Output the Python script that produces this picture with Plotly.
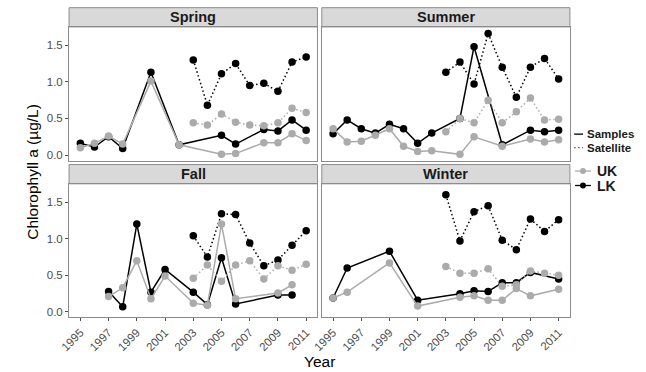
import plotly.graph_objects as go

# Years on the x axis (one slot per year, None = no observation)
years = list(range(1995, 2012))
tick_years = list(range(1995, 2012, 2))
seasons = ["Spring", "Summer", "Fall", "Winter"]

# Chlorophyll a (ug/L) -- in-situ samples
spring_samples_uk = [0.10, 0.16, 0.26, 0.15, None, 1.01, None, 0.14, None, None, 0.01, 0.02, None, 0.17, 0.17, 0.29, 0.20]
spring_samples_lk = [0.16, 0.11, 0.25, 0.09, None, 1.13, None, 0.14, None, None, 0.27, 0.15, None, 0.35, 0.33, 0.48, 0.34]
summer_samples_uk = [0.36, 0.18, 0.19, 0.27, 0.36, 0.12, 0.05, 0.06, None, 0.01, 0.25, None, 0.12, None, 0.22, 0.18, 0.21]
summer_samples_lk = [0.29, 0.48, 0.36, 0.30, 0.42, 0.36, 0.16, 0.30, None, 0.50, 1.48, None, 0.14, None, 0.34, 0.32, 0.34]
fall_samples_uk = [None, None, 0.21, 0.33, 0.70, 0.18, 0.49, None, 0.12, 0.09, 1.20, 0.18, None, None, 0.26, 0.37, None]
fall_samples_lk = [None, None, 0.28, 0.07, 1.20, 0.27, 0.58, None, 0.27, 0.10, 0.74, 0.11, None, None, 0.23, 0.23, None]
winter_samples_uk = [0.19, 0.27, None, None, 0.67, None, 0.08, None, None, 0.20, 0.22, 0.16, 0.16, 0.32, 0.22, None, 0.31]
winter_samples_lk = [0.19, 0.60, None, None, 0.83, None, 0.16, None, None, 0.25, 0.29, 0.28, 0.40, 0.40, 0.54, None, 0.45]

# Chlorophyll a (ug/L) -- satellite estimates (2003 onward)
pre = [None] * 8
spring_satellite_uk = pre + [0.44, 0.41, 0.56, 0.45, 0.41, 0.40, 0.44, 0.64, 0.58]
spring_satellite_lk = pre + [1.30, 0.68, 1.11, 1.25, 0.95, 0.98, 0.87, 1.27, 1.34]
summer_satellite_uk = pre + [0.32, 0.50, 0.44, 0.75, 0.44, 0.59, 0.78, 0.48, 0.49]
summer_satellite_lk = pre + [1.13, 1.27, 0.97, 1.66, 1.20, 0.79, 1.20, 1.32, 1.04]
fall_satellite_uk = pre + [0.46, 0.64, 0.42, 0.64, 0.70, 0.45, 0.63, 0.57, 0.65]
fall_satellite_lk = pre + [1.04, 0.75, 1.34, 1.33, 0.94, 0.63, 0.71, 0.91, 1.11]
winter_satellite_uk = pre + [0.62, 0.53, 0.53, 0.59, 0.35, 0.37, 0.56, 0.53, 0.50]
winter_satellite_lk = pre + [1.60, 0.97, 1.37, 1.45, 0.98, 0.85, 1.27, 1.10, 1.26]

panel_data = {
    "Spring": (spring_samples_lk, spring_samples_uk, spring_satellite_lk, spring_satellite_uk),
    "Summer": (summer_samples_lk, summer_samples_uk, summer_satellite_lk, summer_satellite_uk),
    "Fall": (fall_samples_lk, fall_samples_uk, fall_satellite_lk, fall_satellite_uk),
    "Winter": (winter_samples_lk, winter_samples_uk, winter_satellite_lk, winter_satellite_uk),
}

W, H = 646, 372
UK_COLOR = "#ababab"
LK_COLOR = "#000000"
FONT = "Liberation Sans, Arial, Helvetica, sans-serif"
DOTTED = "1.5px,2.5px"

def px_x(v):
    return v / W

def px_y(v):
    return (H - v) / H

# panel boxes in pixel coordinates: (left, right, top, bottom)
panels = {
    "Spring": (60.0, 312.3, 27.0, 161.0),
    "Summer": (316.7, 568.7, 27.0, 161.0),
    "Fall": (60.0, 312.3, 184.3, 318.3),
    "Winter": (316.7, 568.7, 184.3, 318.3),
}
strip_h = 19.3

fig = go.Figure()
layout_axes = {}
shapes = []
annotations = []

for i, season in enumerate(seasons):
    n = i + 1
    xa = "x" if n == 1 else f"x{n}"
    ya = "y" if n == 1 else f"y{n}"
    s_lk, s_uk, sat_lk, sat_uk = panel_data[season]
    for vals, color, dash in [
        (s_lk, LK_COLOR, "solid"),
        (sat_lk, LK_COLOR, DOTTED),
        (s_uk, UK_COLOR, "solid"),
        (sat_uk, UK_COLOR, DOTTED),
    ]:
        fig.add_trace(go.Scatter(
            x=years, y=vals, xaxis=xa, yaxis=ya, mode="lines+markers",
            connectgaps=True, showlegend=False, hoverinfo="skip",
            line=dict(color=color, width=1.5, dash=dash),
            marker=dict(color=color, size=7.5),
        ))

    left, right, top, bottom = panels[season]
    is_left = season in ("Spring", "Fall")
    is_bottom = season in ("Fall", "Winter")
    layout_axes["xaxis" if n == 1 else f"xaxis{n}"] = dict(
        domain=[px_x(left), px_x(right)], anchor=ya, range=[1994.2, 2011.8],
        tickvals=tick_years, ticktext=[str(t) for t in tick_years] if is_bottom else [""] * len(tick_years),
        showticklabels=is_bottom, ticks="outside" if is_bottom else "", ticklen=3,
        tickcolor="#4d4d4d", tickangle=-45,
        tickfont=dict(size=11.5, color="#4d4d4d", family=FONT),
        showgrid=False, zeroline=False, showline=True, mirror=True,
        linecolor="#8c8c8c", linewidth=1,
    )
    layout_axes["yaxis" if n == 1 else f"yaxis{n}"] = dict(
        domain=[px_y(bottom), px_y(top)], anchor=xa, range=[-0.075, 1.75],
        tickvals=[0, 0.5, 1.0, 1.5], ticktext=["0.0", "0.5", "1.0", "1.5"],
        showticklabels=is_left, ticks="outside" if is_left else "", ticklen=3,
        tickcolor="#4d4d4d",
        tickfont=dict(size=11.5, color="#4d4d4d", family=FONT),
        showgrid=False, zeroline=False, showline=True, mirror=True,
        linecolor="#8c8c8c", linewidth=1,
    )
    # facet strip
    shapes.append(dict(
        type="rect", xref="paper", yref="paper",
        x0=px_x(left), x1=px_x(right), y0=px_y(top), y1=px_y(top - strip_h),
        fillcolor="#d9d9d9", line=dict(color="#8c8c8c", width=1), layer="below",
    ))
    annotations.append(dict(
        x=(px_x(left) + px_x(right)) / 2, y=px_y(top - strip_h / 2),
        xref="paper", yref="paper", text=f"<b>{season}</b>", showarrow=False,
        font=dict(size=14.5, color="#1a1a1a", family=FONT),
        xanchor="center", yanchor="middle",
    ))

# axis titles
annotations.append(dict(
    x=px_x(314.5), y=px_y(362), xref="paper", yref="paper", text="Year",
    showarrow=False, font=dict(size=15.5, color="#000000", family=FONT),
    xanchor="center", yanchor="middle",
))
annotations.append(dict(
    x=px_x(22), y=px_y(172.5), xref="paper", yref="paper",
    text="Chlorophyll a (\u00b5g/L)", textangle=-90, showarrow=False,
    font=dict(size=15.5, color="#000000", family=FONT),
    xanchor="center", yanchor="middle",
))

# legend: line type
legend_rows = [("Samples", "solid", 134.5), ("Satellite", DOTTED, 148.0)]
for label, dash, yy in legend_rows:
    shapes.append(dict(
        type="line", xref="paper", yref="paper",
        x0=px_x(573), x1=px_x(582), y0=px_y(yy), y1=px_y(yy),
        line=dict(color="#000000" if dash == "solid" else "#555555", width=1.3, dash=dash),
    ))
    annotations.append(dict(
        x=px_x(585), y=px_y(yy), xref="paper", yref="paper", text=f"<b>{label}</b>",
        showarrow=False, font=dict(size=11.5, color="#1a1a1a", family=FONT),
        xanchor="left", yanchor="middle", borderpad=0,
    ))

# legend: site colour
site_rows = [("UK", UK_COLOR, 171.5), ("LK", LK_COLOR, 186.0)]
for label, color, yy in site_rows:
    shapes.append(dict(
        type="line", xref="paper", yref="paper",
        x0=px_x(574), x1=px_x(590), y0=px_y(yy), y1=px_y(yy),
        line=dict(color=color, width=1.3),
    ))
    shapes.append(dict(
        type="circle", xref="paper", yref="paper",
        x0=px_x(579), x1=px_x(585), y0=px_y(yy + 3), y1=px_y(yy - 3),
        fillcolor=color, line=dict(color=color, width=0),
    ))
    annotations.append(dict(
        x=px_x(595), y=px_y(yy), xref="paper", yref="paper", text=f"<b>{label}</b>",
        showarrow=False, font=dict(size=14, color="#1a1a1a", family=FONT),
        xanchor="left", yanchor="middle", borderpad=0,
    ))

fig.update_layout(
    width=W, height=H, margin=dict(l=0, r=0, t=0, b=0),
    paper_bgcolor="white", plot_bgcolor="white",
    shapes=shapes, annotations=annotations, showlegend=False,
    **layout_axes,
)

fig.write_html("out.html")
